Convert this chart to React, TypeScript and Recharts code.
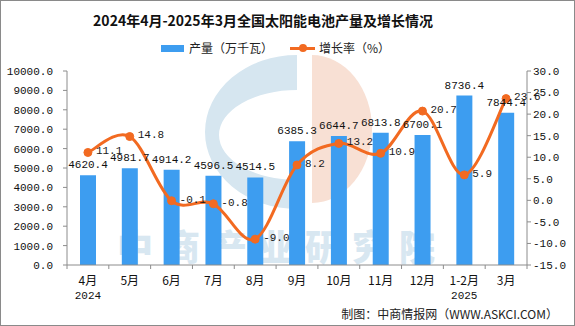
import React from 'react';
import { ComposedChart, Bar, Line, XAxis, YAxis, LabelList } from 'recharts';

const months = ['4月', '5月', '6月', '7月', '8月', '9月', '10月', '11月', '12月', '1-2月', '3月'];
const years = ['2024', '', '', '', '', '', '', '', '', '2025', ''];
const output = [4620.4, 4981.7, 4914.2, 4596.5, 4514.5, 6385.3, 6644.7, 6813.8, 6700.1, 8736.4, 7844.4];
const growth = [11.1, 14.8, -0.1, -0.8, -9.0, 8.2, 13.2, 10.9, 20.7, 5.9, 23.6];
const leftTicks = [0, 1000, 2000, 3000, 4000, 5000, 6000, 7000, 8000, 9000, 10000];
const rightTicks = [-15, -10, -5, 0, 5, 10, 15, 20, 25, 30];

const data = months.map((m, i) => ({ month: m, year: years[i], output: output[i], growth: growth[i] }));

const BAR = '#3d9df0';
const LINE = '#f26a21';
const AXIS = '#8c8c8c';
const MONO = '"Liberation Mono", "DejaVu Sans Mono", monospace';
const CJK = '"Noto Sans CJK SC", sans-serif';

// excel-like smoothed line (catmull-rom style bezier)
const smooth = (context: any) => {
  let pts: number[][] = [];
  return {
    areaStart() {},
    areaEnd() {},
    lineStart() { pts = []; },
    lineEnd() {
      if (!pts.length) return;
      context.moveTo(pts[0][0], pts[0][1]);
      for (let i = 0; i < pts.length - 1; i++) {
        const p0 = pts[i - 1] || pts[i];
        const p1 = pts[i];
        const p2 = pts[i + 1];
        const p3 = pts[i + 2] || pts[i + 1];
        context.bezierCurveTo(
          p1[0] + (p2[0] - p0[0]) / 6, p1[1] + (p2[1] - p0[1]) / 6,
          p2[0] - (p3[0] - p1[0]) / 6, p2[1] - (p3[1] - p1[1]) / 6,
          p2[0], p2[1]
        );
      }
    },
    point(x: number, y: number) { pts.push([+x, +y]); },
  };
};

const W = 573;
const H = 324;
const LEFT_W = 66;
const RIGHT_W = 47;
const band = (W - LEFT_W - RIGHT_W) / months.length;

const XTick = (props: any) => {
  const { x, y, payload, index } = props;
  const yr = years[index];
  return (
    <g>
      <line x1={x - band / 2} y1={y - 8} x2={x - band / 2} y2={y - 4} stroke={AXIS} />
      {index === months.length - 1 && <line x1={x + band / 2} y1={y - 8} x2={x + band / 2} y2={y - 4} stroke={AXIS} />}
      <text x={x} y={y + 12} textAnchor="middle" fontSize={12} fontFamily={CJK} fill="#111">{payload.value}</text>
      {yr && <text x={x} y={y + 26} textAnchor="middle" fontSize={11} fontFamily={MONO} fill="#111">{yr}</text>}
    </g>
  );
};

const GrowthLabel = (props: any) => {
  const { x, y, value } = props;
  return (
    <text x={x + 8} y={y - 1} dominantBaseline="middle" fontSize={11} fontFamily={MONO} fill="#1a1a1a">
      {Number(value).toFixed(1)}
    </text>
  );
};

export default function App() {
  return (
    <div style={{ position: 'relative', width: W + 2, height: H + 2, background: '#fff', boxSizing: 'border-box', border: '1px solid #8a8a8a', overflow: 'hidden' }}>
      <style>{`body{margin:0}`}</style>
      {/* faint logo + watermark behind the chart */}
      <svg width={W} height={H} style={{ position: 'absolute', left: 0, top: 0 }}>
        <path d="M296,54 A92,77 0 0 0 296,208 L296,179 A78,45 0 0 1 296,89 Z" fill="#d6e6f0" />
        <path d="M311,54 A60,74 0 0 1 311,202 Z" fill="#f8e0d4" />
      </svg>
      <div style={{ position: 'absolute', left: 116, top: 226, fontFamily: CJK, fontWeight: 900, fontSize: 36, letterSpacing: 11, color: '#d8e7f1', whiteSpace: 'nowrap', lineHeight: '36px' }}>
        中商产业研究院
      </div>
      <div style={{ position: 'absolute', top: 9, left: 0, width: 524, textAlign: 'center', fontFamily: CJK, fontWeight: 700, fontSize: 14, color: '#111', lineHeight: '20px' }}>
        2024年4月-2025年3月全国太阳能电池产量及增长情况
      </div>
      <div style={{ position: 'absolute', top: 39, left: 160, display: 'flex', alignItems: 'center', fontFamily: CJK, fontSize: 12, color: '#222', lineHeight: '16px' }}>
        <span style={{ display: 'inline-block', width: 23, height: 7, background: BAR, marginRight: 5 }} />
        <span>产量（万千瓦）</span>
        <span style={{ position: 'relative', display: 'inline-block', width: 25, height: 10, marginLeft: 17, marginRight: 4 }}>
          <span style={{ position: 'absolute', left: 0, top: 4, width: 25, height: 3, background: LINE }} />
          <span style={{ position: 'absolute', left: 9, top: 1, width: 8, height: 8, borderRadius: 4, background: LINE }} />
        </span>
        <span>增长率（%）</span>
      </div>
      <div style={{ position: 'absolute', left: 0, top: 0 }}>
        <ComposedChart width={W} height={H} data={data} margin={{ top: 70, right: 0, bottom: 0, left: 0 }}>
          <XAxis dataKey="month" stroke={AXIS} tickLine={false} tick={<XTick />} interval={0} height={60} />
          <YAxis yAxisId="l" domain={[0, 10000]} ticks={leftTicks} width={LEFT_W} stroke={AXIS} tickSize={4}
            tickFormatter={(v: number) => v.toFixed(1)} tick={{ fontSize: 11, fontFamily: MONO, fill: '#111', dx: -8 }} interval={0} />
          <YAxis yAxisId="r" orientation="right" domain={[-15, 30]} ticks={rightTicks} width={RIGHT_W} stroke={AXIS} tickSize={4}
            tickFormatter={(v: number) => v.toFixed(1)} tick={{ fontSize: 11, fontFamily: MONO, fill: '#111' }} interval={0} />
          <Bar yAxisId="l" dataKey="output" fill={BAR} barSize={16} isAnimationActive={false}>
            <LabelList dataKey="output" position="top" offset={7} fontSize={11} fontFamily={MONO} fill="#111"
              formatter={(v: any) => Number(v).toFixed(1)} />
          </Bar>
          <Line yAxisId="r" dataKey="growth" type={smooth as any} stroke={LINE} strokeWidth={3}
            dot={{ r: 4, fill: LINE, stroke: LINE, strokeWidth: 1 }} activeDot={false} isAnimationActive={false}>
            <LabelList dataKey="growth" content={<GrowthLabel />} />
          </Line>
        </ComposedChart>
      </div>
      <div style={{ position: 'absolute', right: 16, top: 304, fontFamily: CJK, fontSize: 12, color: '#222' }}>
        制图：中商情报网（WWW.ASKCI.COM）
      </div>
    </div>
  );
}
